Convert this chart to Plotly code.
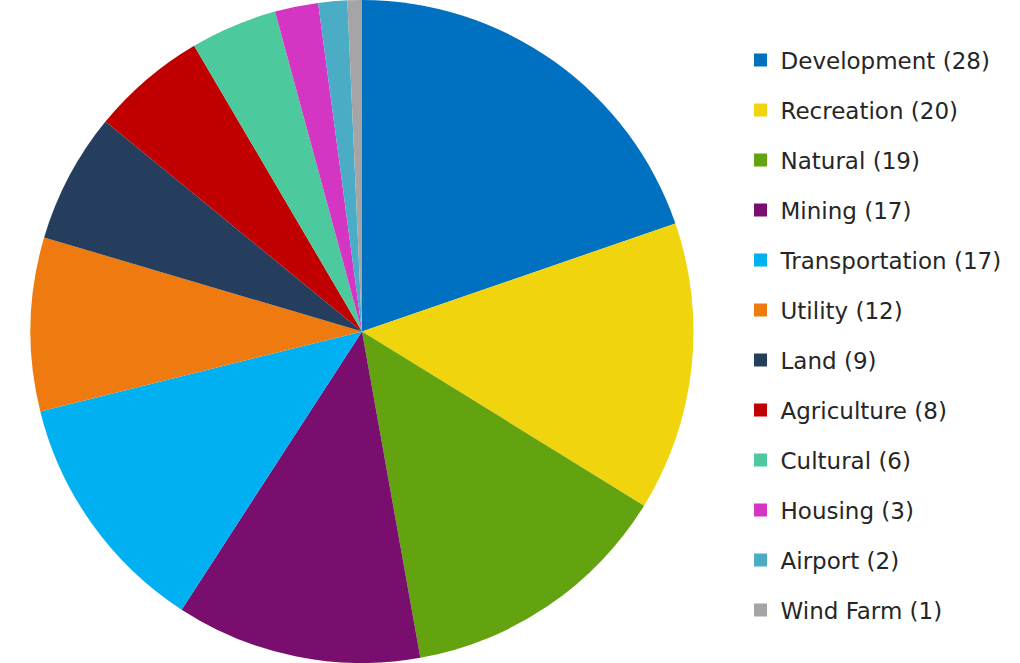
import plotly.graph_objects as go

categories = ["Development", "Recreation", "Natural", "Mining", "Transportation",
              "Utility", "Land", "Agriculture", "Cultural", "Housing", "Airport", "Wind Farm"]
counts = [28, 20, 19, 17, 17, 12, 9, 8, 6, 3, 2, 1]
colors = ["#0070C0", "#F0D50E", "#62A30F", "#7A0E6E", "#00B0F0",
          "#EE7A10", "#253E5E", "#C00000", "#4CC99D", "#D435C3", "#4BACC6", "#A5A5A5"]

labels = [f"{c} ({n})" for c, n in zip(categories, counts)]

fig = go.Figure()
fig.add_trace(go.Pie(
    labels=labels, values=counts, sort=False, direction="clockwise", rotation=0,
    marker=dict(colors=colors, line=dict(width=0)),
    textinfo="none", hoverinfo="label+value", showlegend=False,
    domain=dict(x=[30.5/1020, 693.5/1020], y=[0, 1]),
))

for i, (lab, col) in enumerate(zip(labels, colors)):
    fig.add_trace(go.Scatter(
        x=[None], y=[None], mode="markers", name=lab, legendgroup=f"g{i}",
        marker=dict(symbol="square", size=13, color=col),
    ))

fig.update_layout(
    width=1020, height=663,
    margin=dict(l=0, r=0, t=0, b=0),
    paper_bgcolor="white", plot_bgcolor="white",
    xaxis=dict(visible=False), yaxis=dict(visible=False),
    legend=dict(x=0.726, y=0.942, xanchor="left", yanchor="top",
                font=dict(family="DejaVu Sans", size=23, color="#262626"),
                tracegroupgap=17.1, itemwidth=30, bgcolor="rgba(0,0,0,0)"),
)

fig.write_html("out.html")
